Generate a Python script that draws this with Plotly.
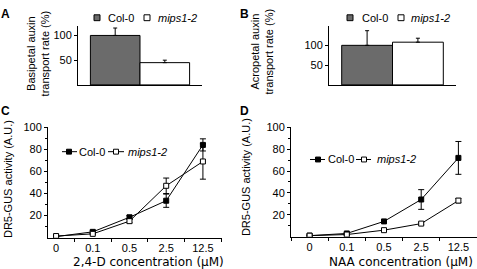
import plotly.graph_objects as go

W, H = 477, 269

# ---------------- data ----------------
bar_series = ["Col-0", "mips1-2"]
basipetal_vals = [100, 45]
basipetal_err = [15, 5]
acropetal_vals = [100, 108]
acropetal_err = [37, 10]

conc_labels = ["0", "0.1", "0.5", "2.5", "12.5"]
d24_col = [1, 5.3, 18.5, 33.5, 84]
d24_col_err = [0.5, 1, 1.5, 6, 5.5]
d24_mips = [1.5, 3.5, 15, 47, 69]
d24_mips_err = [0.5, 0.5, 1.5, 7, 16]

naa_col = [1, 3, 14, 34, 72]
naa_col_err = [0.5, 0.8, 1, 9, 15]
naa_mips = [1, 2, 6, 12, 33]
naa_mips_err = [0.5, 0.5, 0.8, 1, 2]

FONT = "Liberation Sans, Arial, sans-serif"
GREY = "#6b6b6b"


def fx(px):
    return px / W


def fy(py):
    return 1 - py / H


fig = go.Figure()

# ---------------- bar panels ----------------
for vals, errs, xa, ya in [(basipetal_vals, basipetal_err, "x", "y"),
                           (acropetal_vals, acropetal_err, "x2", "y2")]:
    for i, name in enumerate(bar_series):
        fig.add_trace(go.Bar(
            x=["g"], y=[vals[i]], name=name, xaxis=xa, yaxis=ya,
            marker=dict(color=GREY if i == 0 else "white",
                        line=dict(color="black", width=1)),
            error_y=dict(type="data", symmetric=False, array=[errs[i]], arrayminus=[0],
                         color="black", thickness=1, width=2),
            showlegend=False,
        ))

# ---------------- line panels ----------------
for ys, es, name, filled, xa, ya in [
    (d24_col, d24_col_err, "Col-0", True, "x3", "y3"),
    (d24_mips, d24_mips_err, "mips1-2", False, "x3", "y3"),
    (naa_col, naa_col_err, "Col-0", True, "x4", "y4"),
    (naa_mips, naa_mips_err, "mips1-2", False, "x4", "y4"),
]:
    fig.add_trace(go.Scatter(
        x=conc_labels, y=ys, name=name, xaxis=xa, yaxis=ya, mode="lines+markers",
        line=dict(color="black", width=1),
        marker=dict(symbol="square", size=5, color="black" if filled else "white",
                    line=dict(color="black", width=1)),
        error_y=dict(type="data", array=es, color="black", thickness=1, width=3),
        showlegend=False,
    ))

line_common = dict(showline=True, linecolor="black", linewidth=1, showgrid=False,
                   zeroline=False, tickcolor="black", ticklen=3, tickwidth=1)
tickfont = dict(family=FONT, size=11, color="#000000")

fig.update_layout(
    width=W, height=H, margin=dict(l=0, r=0, t=0, b=0),
    paper_bgcolor="white", plot_bgcolor="white",
    barmode="group",
    font=dict(family=FONT, size=11, color="#000000"),
    xaxis=dict(domain=[fx(78), fx(202)], anchor="y", type="category", range=[-0.5, 0.5],
               showticklabels=False, ticks="inside", tickson="boundaries", **line_common),
    yaxis=dict(domain=[fy(80.7), fy(20)], anchor="x", range=[0, 120], tickvals=[50, 100],
               ticks="outside", tickfont=tickfont, **line_common),
    xaxis2=dict(domain=[fx(329), fx(456)], anchor="y2", type="category", range=[-0.5, 0.5],
                showticklabels=False, ticks="inside", tickson="boundaries", **line_common),
    yaxis2=dict(domain=[fy(80.7), fy(20)], anchor="x2", range=[0, 150], tickvals=[50, 100],
                ticks="outside", tickfont=tickfont, **line_common),
    xaxis3=dict(domain=[fx(48), fx(222)], anchor="y3", type="category", range=[-0.22, 4.52],
                ticks="outside", tickson="boundaries", tickfont=tickfont, **line_common),
    yaxis3=dict(domain=[fy(237), fy(124)], anchor="x3", range=[0, 100],
                tickvals=[20, 40, 60, 80, 100], ticks="outside", tickfont=tickfont,
                minor=dict(tickvals=[10, 30, 50, 70, 90], ticks="outside", ticklen=2, tickcolor="black"),
                **line_common),
    xaxis4=dict(domain=[fx(291), 1.0], anchor="y4", type="category", range=[-0.5, 4.5],
                ticks="outside", tickson="boundaries", tickfont=tickfont, **line_common),
    yaxis4=dict(domain=[fy(236), fy(124)], anchor="x4", range=[0, 100],
                tickvals=[20, 40, 60, 80, 100], ticks="outside", tickfont=tickfont,
                minor=dict(tickvals=[10, 30, 50, 70, 90], ticks="outside", ticklen=2, tickcolor="black"),
                **line_common),
)

annotations = []
shapes = []


def text(px, py, s, size=11, xanchor="center", angle=0, family=FONT):
    annotations.append(dict(x=fx(px), y=fy(py), xref="paper", yref="paper", text=s,
                            showarrow=False, xanchor=xanchor, yanchor="middle", borderpad=0,
                            textangle=angle, font=dict(family=family, size=size, color="#000000")))


# panel letters
for lbl, px, py in [("A", 5, 8), ("B", 244, 8), ("C", 5, 107), ("D", 244, 107)]:
    text(px, py, "<b>%s</b>" % lbl, size=12)

# y titles
text(37.5, 49, "Basipetal auxin<br>transport rate (%)", angle=-90)
text(261.5, 47, "Acropetal auxin<br>transport rate (%)", angle=-90)
text(8, 177, "DR5-GUS activity (A.U.)", angle=-90)
text(246, 175, "DR5-GUS activity (A.U.)", angle=-90)

# x titles
text(148, 262, "2,4-D concentration (μM)", size=12, family="DejaVu Sans")
text(401, 262, "NAA concentration (μM)", size=12, family="DejaVu Sans")


def square(cx, cy, s, fill):
    shapes.append(dict(type="rect", xref="paper", yref="paper",
                       x0=fx(cx - s / 2), x1=fx(cx + s / 2), y0=fy(cy + s / 2), y1=fy(cy - s / 2),
                       fillcolor=fill, line=dict(color="black", width=1)))


def hline(xa, xb, y):
    shapes.append(dict(type="line", xref="paper", yref="paper",
                       x0=fx(xa), x1=fx(xb), y0=fy(y), y1=fy(y), line=dict(color="black", width=1)))


# bar legends (A, B)
for sq1, t1, sq2, t2 in [(97, 107, 147, 157), (350, 361, 401, 410)]:
    square(sq1, 12, 6, GREY)
    text(t1, 12, bar_series[0], xanchor="left")
    square(sq2, 12, 6, "white")
    text(t2, 12, "<i>%s</i>" % bar_series[1], xanchor="left")

# line legends (C, D)
for y, l1, m1, t1, l2, m2, t2 in [(149, (62, 77), 69, 78, (108, 124), 116, 127),
                                  (157, (310, 325), 318, 327, (356, 371), 364, 376)]:
    hline(l1[0], l1[1], y)
    square(m1, y, 5, "black")
    text(t1, y, bar_series[0], xanchor="left")
    hline(l2[0], l2[1], y)
    square(m2, y, 5, "white")
    text(t2, y, "<i>%s</i>" % bar_series[1], xanchor="left")

fig.update_layout(annotations=annotations, shapes=shapes)
fig.write_html("out.html", config={"displayModeBar": False},
               post_script="document.body.style.margin='0px';document.body.style.padding='0px';")
